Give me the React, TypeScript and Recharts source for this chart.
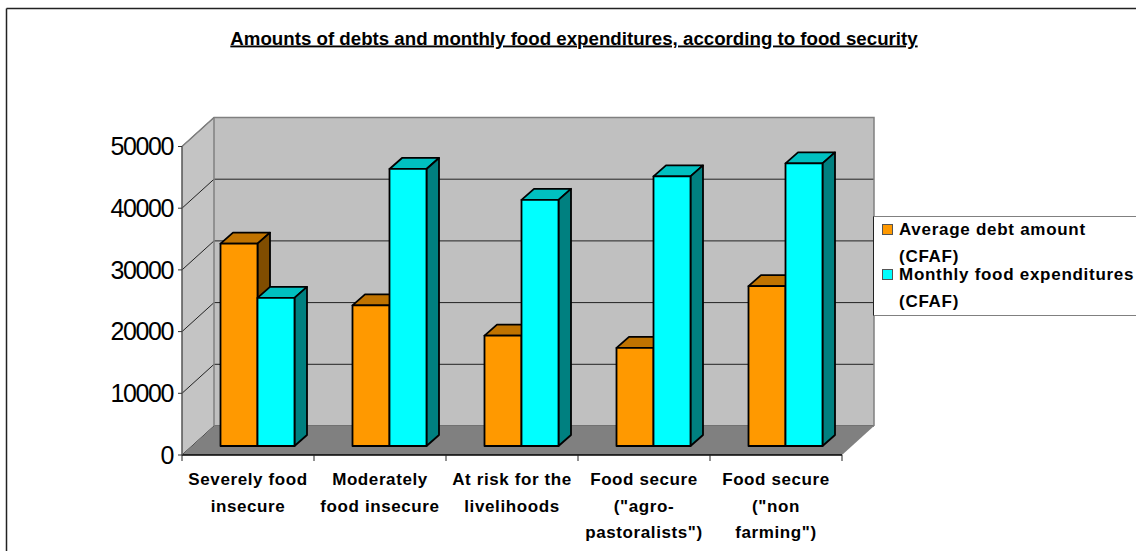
import { Bar, BarChart, CartesianGrid, Legend, XAxis, YAxis, usePlotArea } from "recharts";

const categories = [
  "Severely food|insecure",
  "Moderately|food insecure",
  "At risk for the|livelihoods",
  'Food secure|("agro-|pastoralists")',
  'Food secure|("non|farming")',
];
const debtAmounts = [32800, 22800, 17900, 15900, 25900];
const foodExpenditures = [24000, 44900, 39900, 43700, 45800];
const valueTicks = [0, 10000, 20000, 30000, 40000, 50000];

const rows = categories.map((category, i) => ({
  category,
  debt: debtAmounts[i],
  food: foodExpenditures[i],
}));

const FONT = '"Liberation Sans", Arial, sans-serif';

// depth of the box the bars stand in, and of the bars themselves
const WALL_DX = 32;
const WALL_DY = -29;
const BAR_SHIFT_X = 9.5;
const BAR_SHIFT_Y = -9;
const BAR_DX = 12.5;
const BAR_DY = -11;

const shades: Record<string, { top: string; side: string }> = {
  "#ff9900": { top: "#c07300", side: "#804d00" },
  "#00ffff": { top: "#00c0c0", side: "#008080" },
};

function Walls() {
  const plot = usePlotArea();
  if (!plot) return null;
  const { x, y, width, height } = plot;
  const bottom = y + height;
  return (
    <g>
      <polygon
        points={`${x},${y} ${x + WALL_DX},${y + WALL_DY} ${x + WALL_DX},${bottom + WALL_DY} ${x},${bottom}`}
        fill="#c4c4c4"
      />
      <rect x={x + WALL_DX} y={y + WALL_DY} width={width} height={height} fill="#c0c0c0" />
    </g>
  );
}

function FloorAndEdges() {
  const plot = usePlotArea();
  if (!plot) return null;
  const { x, y, width, height } = plot;
  const bottom = y + height;
  const right = x + width;
  return (
    <g>
      <polygon
        points={`${x},${bottom} ${right},${bottom} ${right + WALL_DX},${bottom + WALL_DY} ${x + WALL_DX},${bottom + WALL_DY}`}
        fill="#808080"
      />
      <path
        d={`M${x},${y} L${x + WALL_DX},${y + WALL_DY} H${right + WALL_DX} V${bottom + WALL_DY}`}
        fill="none"
        stroke="#808080"
        strokeWidth={1.5}
      />
      <line x1={x + WALL_DX} y1={y + WALL_DY} x2={x + WALL_DX} y2={bottom + WALL_DY} stroke="#808080" strokeWidth={1.5} />
    </g>
  );
}

// grid line runs across the left wall and then along the back wall
function gridLine(props: any) {
  const { x1, x2, y1, key } = props;
  return (
    <path
      key={key}
      d={`M${x1},${y1} L${x1 + WALL_DX},${y1 + WALL_DY} H${x2 + WALL_DX}`}
      fill="none"
      stroke="#222"
      strokeWidth={1}
    />
  );
}

function Box3D(props: any) {
  const { x, y, width, height, fill } = props;
  const left = x + BAR_SHIFT_X;
  const top = y + BAR_SHIFT_Y;
  const right = left + width;
  const bottom = top + height;
  const tone = shades[fill];
  return (
    <g stroke="#000" strokeWidth={1.8} strokeLinejoin="round">
      <polygon
        points={`${left},${top} ${right},${top} ${right + BAR_DX},${top + BAR_DY} ${left + BAR_DX},${top + BAR_DY}`}
        fill={tone.top}
      />
      <polygon
        points={`${right},${top} ${right + BAR_DX},${top + BAR_DY} ${right + BAR_DX},${bottom + BAR_DY} ${right},${bottom}`}
        fill={tone.side}
      />
      <rect x={left} y={top} width={width} height={height} fill={fill} />
    </g>
  );
}

function CategoryTick(props: any) {
  const { x, y, payload, index, width, visibleTicksCount } = props;
  const band = width / visibleTicksCount;
  const lines = String(payload.value).split("|");
  const axisY = y - 8;
  return (
    <g>
      <line x1={x - band / 2} x2={x - band / 2} y1={axisY} y2={axisY + 6} stroke="#222" />
      {index === visibleTicksCount - 1 && (
        <line x1={x + band / 2} x2={x + band / 2} y1={axisY} y2={axisY + 6} stroke="#222" />
      )}
      {lines.map((line, i) => (
        <text
          key={line}
          x={x}
          y={y + 22 + i * 26.5}
          textAnchor="middle"
          fontFamily={FONT}
          fontWeight="bold"
          fontSize={17}
          letterSpacing={0.6}
          fill="#000"
        >
          {line}
        </text>
      ))}
    </g>
  );
}

function LegendBox(props: any) {
  return (
    <div
      style={{
        boxSizing: "border-box",
        width: 263,
        height: 100,
        background: "#fff",
        borderTop: "1.5px solid #808080",
        borderBottom: "1.5px solid #808080",
        borderLeft: "1px solid #222",
        fontFamily: FONT,
        fontWeight: "bold",
        fontSize: 17,
        letterSpacing: 0.72,
        lineHeight: "27px",
        color: "#000",
      }}
    >
      {props.payload?.map((item: any) => (
        <div key={item.value} style={{ position: "relative", height: 45, paddingLeft: 25, width: 238, top: -1 }}>
          <span
            style={{
              position: "absolute",
              left: 8,
              top: 8,
              width: 9,
              height: 9,
              background: item.color,
              border: "1.5px solid #555",
            }}
          />
          {item.value}
        </div>
      ))}
    </div>
  );
}

export default function App() {
  return (
    <div style={{ position: "absolute", left: 0, top: 0, width: 1136, height: 551 }}>
      <BarChart
        width={1136}
        height={551}
        data={rows}
        margin={{ top: 146.5, right: 31, bottom: 6, left: 122 }}
        barCategoryGap={29}
        barGap={0}
      >
        <line x1={6.5} y1={8.5} x2={1136} y2={8.5} stroke="#222" strokeWidth={1.5} />
        <line x1={6.5} y1={8.5} x2={6.5} y2={551} stroke="#222" strokeWidth={1.5} />
        <text
          x={574}
          y={44.5}
          textAnchor="middle"
          fontFamily={FONT}
          fontWeight="bold"
          fontSize={18.7}
          textDecoration="underline"
          fill="#000"
        >
          Amounts of debts and monthly food expenditures, according to food security
        </text>
        <Walls />
        <CartesianGrid vertical={false} horizontal={gridLine} zIndex={0} />
        <FloorAndEdges />
        <XAxis
          dataKey="category"
          interval={0}
          height={90}
          tickLine={false}
          axisLine={{ stroke: "#000", strokeWidth: 1.5 }}
          tick={CategoryTick}
        />
        <YAxis
          width={60}
          domain={[0, 50000]}
          ticks={valueTicks}
          tickSize={4}
          tickMargin={5}
          axisLine={{ stroke: "#555", strokeWidth: 1.5 }}
          tickLine={{ stroke: "#333" }}
          tick={{ fontFamily: FONT, fontSize: 25, letterSpacing: -1.4, fill: "#000" }}
        />
        <Legend
          layout="vertical"
          align="right"
          verticalAlign="top"
          content={LegendBox}
          wrapperStyle={{ left: 873, top: 216, width: 263, height: 100 }}
        />
        <Bar dataKey="debt" name="Average debt amount (CFAF)" fill="#ff9900" shape={Box3D} isAnimationActive={false} />
        <Bar dataKey="food" name="Monthly food expenditures (CFAF)" fill="#00ffff" shape={Box3D} isAnimationActive={false} />
      </BarChart>
    </div>
  );
}
